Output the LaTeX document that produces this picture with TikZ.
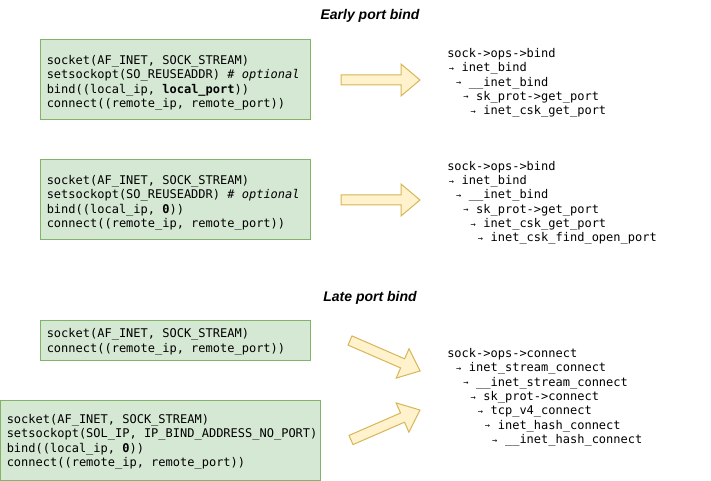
\documentclass[tikz,border=0pt]{standalone}
\usepackage{fontspec}
\setmainfont{Liberation Sans}
\newfontfamily\codefont{DejaVu Sans Mono}[WordSpace={1,0,0}]
\newfontfamily\titlefont{Liberation Sans}
\definecolor{boxfill}{HTML}{D5E8D4}
\definecolor{boxdraw}{HTML}{82B366}
\definecolor{arrfill}{HTML}{FFF2CC}
\definecolor{arrdraw}{HTML}{D6B656}
\newcommand{\cfont}{\codefont\fontsize{9pt}{10.75pt}\selectfont}
\newcommand{\ind}[1]{\hspace*{#1\fontcharwd\font`x}}
\newcommand{\arr}{\makebox[\fontcharwd\font`x][l]{\hspace{1.2pt}\raisebox{0.4pt}{\fontsize{6.5pt}{6.5pt}\selectfont →}}}
\newcommand{\blockarrow}[4]{%
  \begin{scope}[shift={(#1,#2)},rotate=#3]
    \filldraw[arrowsty] (0,-5) -- ({#4-19},-5) -- ({#4-19},-16) -- (#4,0)
      -- ({#4-19},16) -- ({#4-19},5) -- (0,5) -- cycle;
  \end{scope}}
\tikzset{
  codebox/.style={draw=boxdraw, fill=boxfill, line width=0.75pt, inner sep=0pt},
  calltext/.style={anchor=west, inner sep=0pt, align=left, font=\cfont},
  titletext/.style={anchor=base, inner sep=0pt, font=\titlefont\fontsize{10.5pt}{12pt}\selectfont\bfseries\itshape},
  arrowsty/.style={draw=arrdraw, fill=arrfill, line width=0.75pt, line join=miter},
}
\begin{document}
\begin{tikzpicture}[x=0.75pt,y=-0.75pt]
\useasboundingbox (0,0) rectangle (711,481);

\node[titletext] (t1) at (370,19.5) {Early port bind};
\node[titletext] (t2) at (370,301.5) {Late port bind};

\node[codebox, minimum width=202.5pt, minimum height=60pt] (b1) at (175,80) {};
\node[calltext] (b1t) at ([shift={(7,3)}]b1.west)
  {socket(AF\_INET, SOCK\_STREAM)\\
   setsockopt(SO\_REUSEADDR) {\itshape\# optional}\\
   bind((local\_ip, {\bfseries local\_port}))\\
   connect((remote\_ip, remote\_port))};

\node[codebox, minimum width=202.5pt, minimum height=60pt] (b2) at (175,200) {};
\node[calltext] (b2t) at ([shift={(7,3)}]b2.west)
  {socket(AF\_INET, SOCK\_STREAM)\\
   setsockopt(SO\_REUSEADDR) {\itshape\# optional}\\
   bind((local\_ip, {\bfseries 0}))\\
   connect((remote\_ip, remote\_port))};

\node[codebox, minimum width=202.5pt, minimum height=30pt] (b3) at (175,340) {};
\node[calltext] (b3t) at ([shift={(7,2)}]b3.west)
  {socket(AF\_INET, SOCK\_STREAM)\\
   connect((remote\_ip, remote\_port))};

\node[codebox, minimum width=240pt, minimum height=60pt] (b4) at (160.5,440) {};
\node[calltext] (b4t) at ([shift={(6.5,2)}]b4.west)
  {socket(AF\_INET, SOCK\_STREAM)\\
   setsockopt(SOL\_IP, IP\_BIND\_ADDRESS\_NO\_PORT)\\
   bind((local\_ip, {\bfseries 0}))\\
   connect((remote\_ip, remote\_port))};

\node[calltext] (c1) at (447,83)
  {sock->ops->bind\\
   \ind{0}\arr{} inet\_bind\\
   \ind{1}\arr{} \_\_inet\_bind\\
   \ind{2}\arr{} sk\_prot->get\_port\\
   \ind{3}\arr{} inet\_csk\_get\_port};

\node[calltext] (c2) at (447,203)
  {sock->ops->bind\\
   \ind{0}\arr{} inet\_bind\\
   \ind{1}\arr{} \_\_inet\_bind\\
   \ind{2}\arr{} sk\_prot->get\_port\\
   \ind{3}\arr{} inet\_csk\_get\_port\\
   \ind{4}\arr{} inet\_csk\_find\_open\_port};

\node[calltext] (c3) at (447,397.5)
  {sock->ops->connect\\
   \ind{1}\arr{} inet\_stream\_connect\\
   \ind{2}\arr{} \_\_inet\_stream\_connect\\
   \ind{3}\arr{} sk\_prot->connect\\
   \ind{4}\arr{} tcp\_v4\_connect\\
   \ind{5}\arr{} inet\_hash\_connect\\
   \ind{6}\arr{} \_\_inet\_hash\_connect};

\blockarrow{341}{80}{0}{79}
\blockarrow{341}{200}{0}{79}
\blockarrow{350}{340.5}{-23.5}{76.4}
\blockarrow{351}{440}{23.5}{75.2}
\end{tikzpicture}
\end{document}
